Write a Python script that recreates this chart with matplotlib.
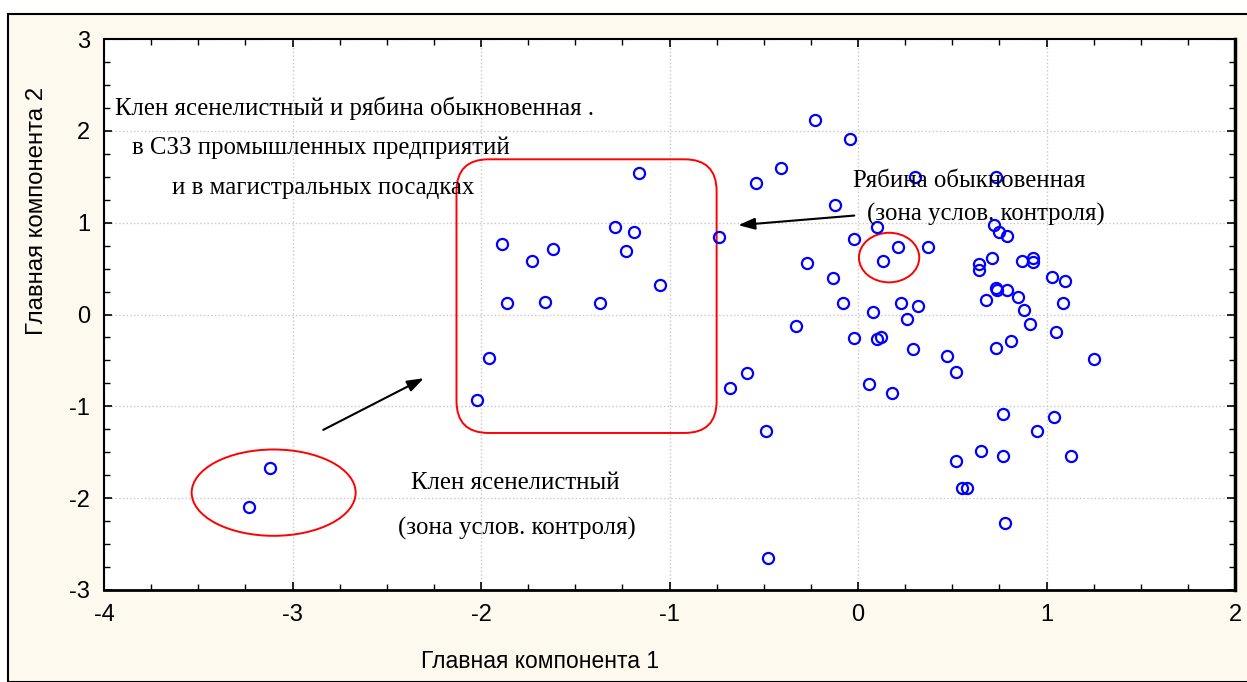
"""
PCA scatter: Главная компонента 1 vs Главная компонента 2
"""

import numpy as np
import matplotlib
matplotlib.use("Agg")
import matplotlib.pyplot as plt
from matplotlib.patches import Ellipse, FancyBboxPatch, Rectangle
from matplotlib.ticker import MultipleLocator

plt.rcParams["axes.unicode_minus"] = False

# ── Data ─────────────────────────────────────────────────────
pc1 = [-3.23, -3.12, -2.02, -1.96, -1.89, -1.86, -1.73, -1.66, -1.62, -1.37,
       -1.29, -1.23, -1.19, -1.16, -1.05, -0.74, -0.68, -0.59, -0.49, -0.48,
       -0.23, -0.04, -0.41, -0.54, 0.30, 0.73, -0.12, 0.10, -0.02, 0.21,
       0.37, 0.13, -0.27, -0.13, 0.72, 0.75, 0.79, 0.71, 0.64, 0.64,
       0.87, 0.73, 0.74, 0.79, 0.68, 0.85, 0.88, 0.91, -0.08, 0.23,
       0.32, 0.08, 0.26, -0.33, -0.02, 0.10, 0.12, 0.29, 0.47, 0.73,
       0.81, 0.52, 0.06, 0.18, 0.93, 0.93, 1.03, 1.10, 1.09, 1.05,
       1.25, 0.77, 1.04, 0.95, 0.77, 1.13, 0.65, 0.52, 0.55, 0.58,
       0.78]
pc2 = [-2.10, -1.67, -0.93, -0.47, 0.77, 0.12, 0.58, 0.14, 0.71, 0.12,
       0.95, 0.69, 0.90, 1.54, 0.32, 0.84, -0.80, -0.64, -1.27, -2.65,
       2.12, 1.91, 1.60, 1.43, 1.50, 1.50, 1.19, 0.95, 0.82, 0.73,
       0.73, 0.58, 0.56, 0.40, 0.97, 0.90, 0.86, 0.62, 0.55, 0.49,
       0.58, 0.29, 0.27, 0.27, 0.16, 0.19, 0.05, -0.10, 0.12, 0.12,
       0.09, 0.03, -0.05, -0.13, -0.26, -0.27, -0.25, -0.38, -0.45, -0.36,
       -0.29, -0.63, -0.76, -0.86, 0.62, 0.57, 0.41, 0.36, 0.12, -0.19,
       -0.49, -1.08, -1.12, -1.27, -1.54, -1.54, -1.49, -1.60, -1.89, -1.89,
       -2.27]

# ── Figure ───────────────────────────────────────────────────
BG = "#fef9ee"
fig = plt.figure(figsize=(12.47, 6.82), dpi=100, facecolor="white")
fig.patches.append(Rectangle((8 / 1247, 0), 1.0, 1 - 14 / 682,
                             transform=fig.transFigure, facecolor=BG,
                             edgecolor="black", linewidth=1.5, zorder=-10))

ax = fig.add_axes([104 / 1247, 1 - 590 / 682, (1235 - 104) / 1247, (590 - 39) / 682])
ax.set_facecolor("white")

ax.plot(pc1, pc2, linestyle="none", marker="o", markersize=8,
        markerfacecolor="none", markeredgecolor="#0000ff",
        markeredgewidth=1.6, zorder=5)

ax.set_xlim(-4, 2)
ax.set_ylim(-3, 3)
ax.xaxis.set_major_locator(MultipleLocator(1))
ax.yaxis.set_major_locator(MultipleLocator(1))
ax.xaxis.set_minor_locator(MultipleLocator(0.25))
ax.yaxis.set_minor_locator(MultipleLocator(0.25))
ax.tick_params(which="both", direction="in", top=True, right=True,
               labelfontfamily="Liberation Sans", labelsize=17, pad=10)
ax.tick_params(which="major", length=6, width=1.2)
ax.tick_params(which="minor", length=4, width=1.0)
ax.grid(True, which="major", linestyle=":", color="#c8c8c8", linewidth=1.0)
ax.set_axisbelow(True)
for side, lw in [("left", 1.5), ("top", 1.5), ("bottom", 2.0), ("right", 2.5)]:
    ax.spines[side].set_linewidth(lw)

# axis titles
fig.text(540 / 1247, 1 - 661 / 682, "Главная компонента 1", ha="center", va="center",
         family="Liberation Sans", fontsize=16.5)
fig.text(37 / 1247, 1 - 211 / 682, "Главная компонента 2", ha="center", va="center",
         rotation=90, family="Liberation Sans", fontsize=17.3)

# ── Red outlines ─────────────────────────────────────────────
box = FancyBboxPatch((-2.13, -1.29), 1.38, 2.98,
                     boxstyle="round,pad=0,rounding_size=0.17",
                     mutation_aspect=2.05, facecolor="none",
                     edgecolor="red", linewidth=1.4, zorder=4)
ax.add_patch(box)
ax.add_patch(Ellipse((-3.10, -1.94), 0.87, 0.94, facecolor="none",
                     edgecolor="red", linewidth=1.4, zorder=4))
ax.add_patch(Ellipse((0.165, 0.62), 0.32, 0.54, facecolor="none",
                     edgecolor="red", linewidth=1.4, zorder=4))

# ── Arrows ───────────────────────────────────────────────────
arrow_kw = dict(arrowstyle="-|>,head_length=1.0,head_width=0.35",
                color="black", linewidth=1.5)
ax.annotate("", xy=(-2.29, -0.68), xytext=(-2.85, -1.27), arrowprops=arrow_kw)
ax.annotate("", xy=(-0.65, 0.97), xytext=(-0.005, 1.08), arrowprops=arrow_kw)

# ── Annotations ──────────────────────────────────────────────
tkw = dict(family="Liberation Serif", fontsize=17.8, ha="center", va="center", zorder=6)
ax.text(-2.67, 2.25, "Клен ясенелистный и рябина обыкновенная .", **tkw)
ax.text(-2.85, 1.82, "в СЗЗ промышленных предприятий", **tkw)
ax.text(-2.84, 1.38, "и в магистральных посадках", **tkw)
ax.text(0.59, 1.45, "Рябина обыкновенная", **tkw)
ax.text(0.68, 1.09, "(зона услов. контроля)", **tkw)
ax.text(-1.82, -1.83, "Клен ясенелистный", **tkw)
ax.text(-1.81, -2.33, "(зона услов. контроля)", **tkw)

fig.savefig("out.png", dpi=100, facecolor=fig.get_facecolor())
